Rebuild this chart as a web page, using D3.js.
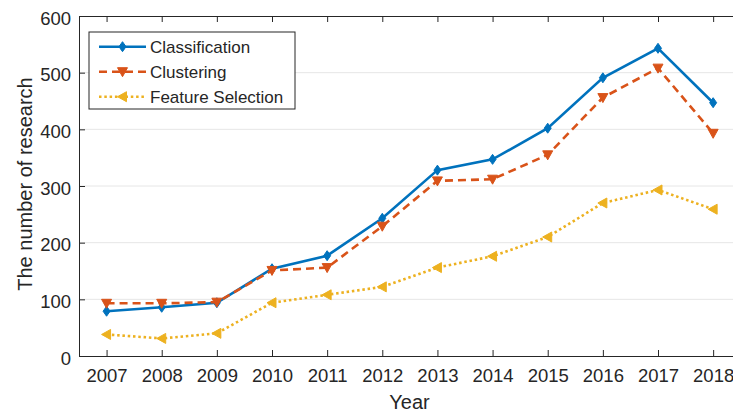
<!DOCTYPE html>
<html>
<head>
<meta charset="utf-8">
<script src="https://cdn.jsdelivr.net/npm/d3@7"></script>
<style>
  body { margin: 0; background: #fff; }
  text { font-family: "Liberation Sans", Arial, sans-serif; fill: #262626; }
</style>
</head>
<body>
<div id="chart"></div>
<script>
// data
var years = [2007, 2008, 2009, 2010, 2011, 2012, 2013, 2014, 2015, 2016, 2017, 2018];
var classification = [79, 86, 94, 154, 177, 243, 328, 347, 402, 491, 543, 447];
var clustering = [93, 93, 95, 151, 156, 229, 309, 312, 355, 456, 508, 393];
var featureSelection = [38, 31, 40, 94, 108, 122, 156, 176, 210, 270, 293, 259];
var yTicks = [0, 100, 200, 300, 400, 500, 600];
var seriesNames = ["Classification", "Clustering", "Feature Selection"];

var series = [
  {name: seriesNames[0], values: classification, color: "#0072BD", dash: null, marker: "diamond"},
  {name: seriesNames[1], values: clustering, color: "#D95319", dash: "8,5", marker: "down"},
  {name: seriesNames[2], values: featureSelection, color: "#EDB120", dash: "2.5,2.8", marker: "left"}
];

// set the dimensions and margins of the graph
var margin = {top: 16, right: 0, bottom: 58, left: 79},
    width = 733 - margin.left - margin.right,
    height = 414 - margin.top - margin.bottom;

var svg = d3.select("#chart")
  .append("svg")
    .attr("width", 733)
    .attr("height", 414)
  .append("g")
    .attr("transform", "translate(" + margin.left + "," + margin.top + ")");

var x = d3.scaleLinear()
  .domain([2006.5, 2018.36])
  .range([0, width]);

var y = d3.scaleLinear()
  .domain([0, 600])
  .range([height, 0]);

// grid lines
svg.append("g")
  .selectAll("line")
  .data(yTicks.slice(1, -1))
  .enter()
  .append("line")
    .attr("x1", 0).attr("x2", width)
    .attr("y1", function(d) { return y(d); })
    .attr("y2", function(d) { return y(d); })
    .style("stroke", "#e6e6e6")
    .style("stroke-width", 1);

// X axis (bottom, ticks inward)
var xAxis = svg.append("g")
  .attr("transform", "translate(0," + height + ")")
  .call(d3.axisBottom(x).tickValues(years).tickFormat(d3.format("d")).tickSize(-6).tickPadding(13));
xAxis.selectAll("text").style("font-size", "18.5px");

// top ticks
svg.append("g")
  .call(d3.axisTop(x).tickValues(years).tickSize(-6).tickFormat(""));

// Y axis
var yAxis = svg.append("g")
  .call(d3.axisLeft(y).tickValues(yTicks).tickSize(-6).tickPadding(8));
yAxis.selectAll("text").style("font-size", "18.5px").attr("dy", "0.45em");

svg.selectAll(".domain").style("stroke", "#262626");
svg.selectAll(".tick line").style("stroke", "#262626");

// lines
var line = d3.line()
  .x(function(d, i) { return x(years[i]); })
  .y(function(d) { return y(d); });

function markerPath(type) {
  if (type == "diamond") return "M0,-5L3.5,0L0,5L-3.5,0Z";
  if (type == "down") return "M-5,-4L5,-4L0,5Z";
  return "M-5,0L4,-5L4,5Z";
}

series.forEach(function(s) {
  svg.append("path")
    .datum(s.values)
    .attr("d", line)
    .style("fill", "none")
    .style("stroke", s.color)
    .style("stroke-width", 2.6)
    .style("stroke-dasharray", s.dash);

  svg.append("g")
    .selectAll("path")
    .data(s.values)
    .enter()
    .append("path")
      .attr("d", markerPath(s.marker))
      .attr("transform", function(d, i) { return "translate(" + x(years[i]) + "," + y(d) + ")"; })
      .style("fill", s.color)
      .style("stroke", s.color)
      .style("stroke-width", 1);
});

// axis labels
svg.append("text")
  .attr("x", 409.5 - margin.left)
  .attr("y", 409 - margin.top)
  .attr("text-anchor", "middle")
  .style("font-size", "20px")
  .text("Year");

svg.append("text")
  .attr("transform", "translate(" + (32 - margin.left) + "," + (184 - margin.top) + ") rotate(-90)")
  .attr("text-anchor", "middle")
  .style("font-size", "20px")
  .text("The number of research");

// legend
var legend = svg.append("g")
  .attr("transform", "translate(10,16)");

legend.append("rect")
  .attr("width", 206)
  .attr("height", 77)
  .style("fill", "#fff")
  .style("stroke", "#262626")
  .style("stroke-width", 1);

series.forEach(function(s, i) {
  var ly = 14.7 + i * 25;
  legend.append("line")
    .attr("x1", 10).attr("x2", 57)
    .attr("y1", ly).attr("y2", ly)
    .style("stroke", s.color)
    .style("stroke-width", 2.6)
    .style("stroke-dasharray", s.dash);
  legend.append("path")
    .attr("d", markerPath(s.marker))
    .attr("transform", "translate(33.5," + ly + ")")
    .style("fill", s.color)
    .style("stroke", s.color);
  legend.append("text")
    .attr("x", 61)
    .attr("y", ly + 6.3)
    .style("font-size", "17px")
    .text(s.name);
});
</script>
</body>
</html>
